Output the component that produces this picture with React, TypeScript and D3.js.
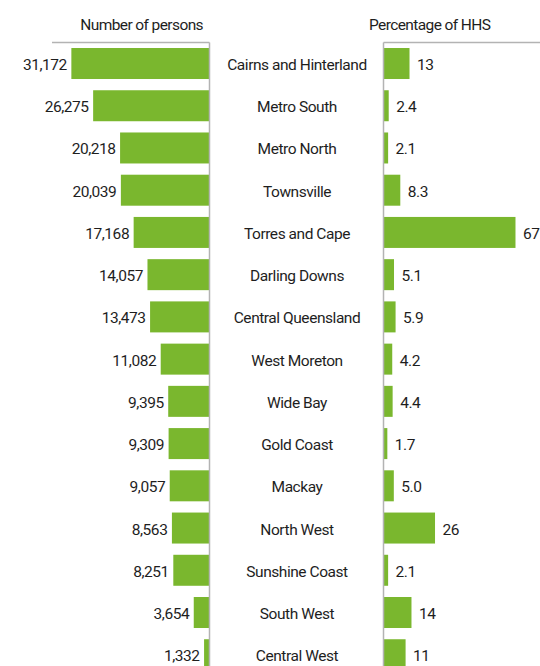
import React from "react";
import * as d3 from "d3";

const categories = [
  "Cairns and Hinterland",
  "Metro South",
  "Metro North",
  "Townsville",
  "Torres and Cape",
  "Darling Downs",
  "Central Queensland",
  "West Moreton",
  "Wide Bay",
  "Gold Coast",
  "Mackay",
  "North West",
  "Sunshine Coast",
  "South West",
  "Central West",
];
const persons = [31172, 26275, 20218, 20039, 17168, 14057, 13473, 11082, 9395, 9309, 9057, 8563, 8251, 3654, 1332];
const percentHHS = [13, 2.4, 2.1, 8.3, 67, 5.1, 5.9, 4.2, 4.4, 1.7, 5.0, 26, 2.1, 14, 11];
const headerLeft = "Number of persons";
const headerRight = "Percentage of HHS";

const W = 540;
const H = 666;
const GREEN = "#7ab72e";
const AXIS = "#b3b3b3";
const TEXT = "#1e1e1e";
const FONT = "Roboto, 'Open Sans', sans-serif";
const FS = 15.5;
const LS = -0.45;

export default function App() {
  const leftAxisX = 209.5;
  const rightAxisX = 383.5;
  const topY = 42.5;
  const step = 42.23;

  const y = d3
    .scaleBand<string>()
    .domain(categories)
    .range([42.4, 42.4 + step * categories.length])
    .paddingInner(0.266)
    .paddingOuter(0.133);

  const xLeft = d3.scaleLinear().domain([0, 35300]).range([210, 53]);
  const xRight = d3.scaleLinear().domain([0, 80]).range([384, 541]);

  const fmtPersons = d3.format(",");
  const fmtPct = (v: number) => (v >= 10 ? d3.format("d")(v) : d3.format(".1f")(v));

  return (
    <svg
      width={W}
      height={H}
      style={{ position: "absolute", left: 0, top: 0, background: "#fff" }}
      fontFamily={FONT}
      letterSpacing={LS}
    >
      <rect x={0} y={0} width={W} height={H} fill="#fff" />
      {/* headers */}
      <text x={203} y={30} textAnchor="end" fontSize={FS} fill={TEXT} letterSpacing={-0.6}>
        {headerLeft}
      </text>
      <text x={369} y={30} textAnchor="start" fontSize={FS} fill={TEXT} letterSpacing={-0.6}>
        {headerRight}
      </text>

      {/* bars */}
      {categories.map((c, i) => {
        const yy = y(c)!;
        const bh = y.bandwidth();
        const cy = yy + bh / 2;
        const lx = xLeft(persons[i]);
        const rx = xRight(percentHHS[i]);
        return (
          <g key={c}>
            <rect x={lx} y={yy} width={xLeft(0) - lx} height={bh} fill={GREEN} />
            <text x={lx - 4.5} y={cy} dy="0.42em" textAnchor="end" fontSize={FS} fill={TEXT}>
              {fmtPersons(persons[i])}
            </text>
            <text x={(leftAxisX + rightAxisX) / 2 + 0.5} y={cy} dy="0.42em" textAnchor="middle" fontSize={FS} fill={TEXT}>
              {c}
            </text>
            <rect x={xRight(0)} y={yy} width={rx - xRight(0)} height={bh} fill={GREEN} />
            <text x={rx + 7.5} y={cy} dy="0.42em" textAnchor="start" fontSize={FS} fill={TEXT}>
              {fmtPct(percentHHS[i])}
            </text>
          </g>
        );
      })}

      {/* axes / frame lines */}
      <line x1={52} x2={leftAxisX} y1={topY} y2={topY} stroke={AXIS} strokeWidth={1.5} />
      <line x1={leftAxisX} x2={leftAxisX} y1={topY} y2={H} stroke={AXIS} strokeWidth={1.5} />
      <line x1={rightAxisX} x2={W} y1={topY} y2={topY} stroke={AXIS} strokeWidth={1.5} />
      <line x1={rightAxisX} x2={rightAxisX} y1={topY} y2={H} stroke={AXIS} strokeWidth={1.5} />
    </svg>
  );
}
